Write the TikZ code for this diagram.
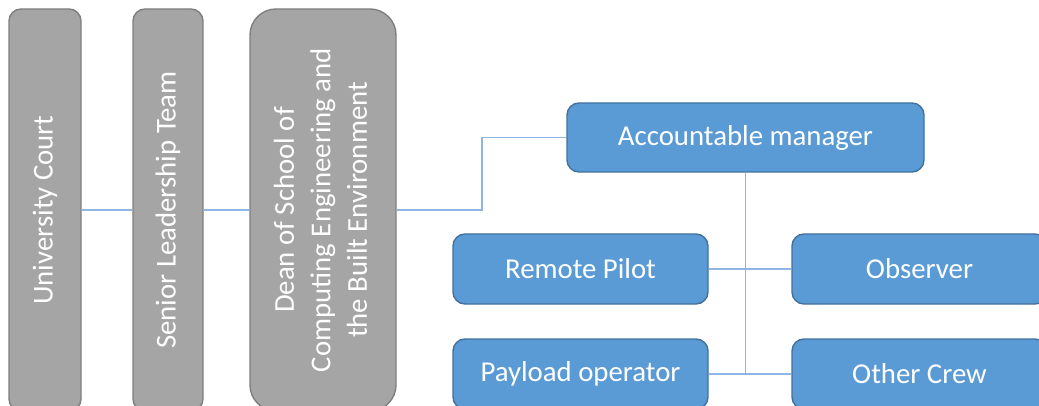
\documentclass[tikz,border=0pt]{standalone}
\usepackage{fontspec}
\setmainfont{Carlito}
\definecolor{grayfill}{HTML}{A5A5A5}
\definecolor{grayline}{HTML}{7F7F7F}
\definecolor{bluefill}{HTML}{5B9BD5}
\definecolor{blueline}{HTML}{41719C}
\definecolor{connline}{HTML}{8FB6E3}
\begin{document}
\begin{tikzpicture}[x=1pt,y=-1pt,
  graybox/.style={draw=grayline, fill=grayfill, line width=1.4pt, rounded corners=12pt,
    inner sep=0pt, text=white, minimum height=402pt, font=\fontsize{28.8}{36.5}\selectfont},
  bluebox/.style={draw=blueline, fill=bluefill, line width=1.4pt, rounded corners=12pt,
    inner sep=0pt, text=white, minimum width=255pt, minimum height=70pt, font=\fontsize{28.8}{36.5}\selectfont},
  conn/.style={draw=connline, line width=1.4pt}]
\useasboundingbox (0,0) rectangle (1039,406);
\clip (0,0) rectangle (1039,406);
\fill[white] (0,0) rectangle (1039,406);
% gray column boxes
\node[graybox, minimum width=72pt] (uc) at (45,210) {\rotatebox{90}{University Court}};
\node[graybox, minimum width=70pt] (slt) at (168,210) {\rotatebox{90}{Senior Leadership Team}};
\node[graybox, minimum width=146pt, rounded corners=26pt] (dean) at (323,210)
  {\rotatebox{90}{\begin{tabular}{@{}c@{}}Dean of School of\\Computing Engineering and\\the Built Environment\end{tabular}}};
% blue boxes
\node[bluebox, minimum width=357pt, minimum height=69pt] (am) at (745.5,137.5) {Accountable manager};
\node[bluebox] (rp) at (580.5,269) {Remote Pilot};
\node[bluebox] (obs) at (919.5,269) {Observer};
\node[bluebox] (po) at (580.5,374) {Payload operator};
\node[bluebox] (oc) at (919.5,374) {Other Crew};
% connectors
\coordinate (elbow) at (482,210);
\coordinate (hub) at (745.5,374);
\draw[conn] (uc.east) -- (slt.west);
\draw[conn] (slt.east) -- (dean.west);
\draw[conn] (dean.east) -- (elbow) |- (am.west);
\draw[conn] (am.south) -- (hub);
\draw[conn] (rp.east) -- (obs.west);
\draw[conn] (po.east) -- (oc.west);
\end{tikzpicture}
\end{document}
